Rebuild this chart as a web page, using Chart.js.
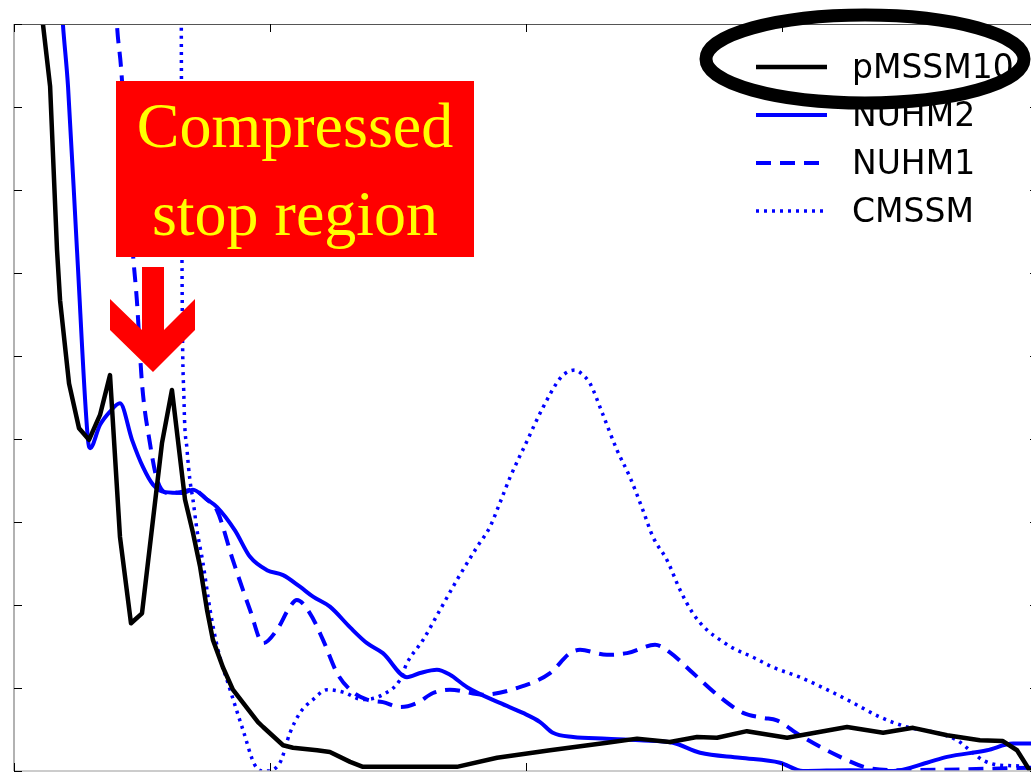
<!DOCTYPE html>
<html>
<head>
<meta charset="utf-8">
<script src="https://cdn.jsdelivr.net/npm/chart.js@4/dist/chart.umd.min.js"></script>
<style>
  html, body { margin: 0; padding: 0; background: #fff; overflow: hidden; }
  #wrap { width: 1050px; height: 773px; }
</style>
</head>
<body>
<div id="wrap"><canvas id="c" width="1050" height="773"></canvas></div>
<script>
// stop mass (GeV) and delta chi^2
const xTicks = [0, 1000, 2000, 3000, 4000];
const yTicks = [0, 1, 2, 3, 4, 5, 6, 7, 8, 9];

const pmssm10X = [94, 113, 141, 168, 180, 215, 254, 293, 336, 375, 414, 457, 500, 578, 617, 668, 699, 727, 754, 777, 816, 855, 910, 953, 973, 1051, 1090, 1184, 1234, 1313, 1363, 1469, 1730, 1887, 2094, 2316, 2434, 2562, 2668, 2746, 2863, 3020, 3254, 3395, 3512, 3645, 3773, 3863, 3918, 3969, 3995];
const pmssm10Y = [9.77, 9.0, 8.25, 6.28, 5.67, 4.67, 4.13, 3.99, 4.29, 4.77, 2.82, 1.78, 1.90, 3.95, 4.59, 3.27, 2.87, 2.46, 1.94, 1.58, 1.25, 0.98, 0.76, 0.59, 0.53, 0.31, 0.28, 0.25, 0.23, 0.11, 0.05, 0.05, 0.05, 0.16, 0.25, 0.34, 0.39, 0.35, 0.41, 0.40, 0.48, 0.40, 0.53, 0.46, 0.52, 0.43, 0.37, 0.36, 0.25, 0.0, -0.15];

const nuhm2X = [180, 191, 211, 246, 289, 297, 336, 375, 414, 461, 504, 543, 590, 660, 699, 754, 793, 863, 922, 988, 1051, 1117, 1168, 1234, 1313, 1379, 1441, 1535, 1586, 1652, 1703, 1770, 1898, 1988, 2055, 2105, 2184, 2316, 2445, 2574, 2680, 2836, 2992, 3082, 3266, 3434, 3566, 3645, 3801, 3902, 3990];
const nuhm2Y = [9.53, 9.0, 8.25, 6.28, 3.99, 3.89, 4.17, 4.33, 4.43, 3.99, 3.66, 3.45, 3.36, 3.35, 3.39, 3.27, 3.18, 2.90, 2.58, 2.42, 2.36, 2.22, 2.10, 1.98, 1.73, 1.54, 1.42, 1.13, 1.18, 1.22, 1.16, 1.01, 0.82, 0.70, 0.59, 0.46, 0.41, 0.39, 0.37, 0.34, 0.22, 0.16, 0.10, 0.0, 0.01, 0.0, 0.10, 0.17, 0.25, 0.33, 0.33];

const nuhm1X = [394, 402, 418, 465, 480, 500, 531, 559, 598, 648, 699, 754, 793, 855, 922, 973, 1027, 1078, 1105, 1156, 1207, 1262, 1313, 1379, 1441, 1508, 1574, 1637, 1703, 1832, 1965, 2094, 2172, 2211, 2316, 2395, 2504, 2562, 2652, 2758, 2848, 2926, 2980, 3070, 3227, 3332, 3461, 3990];
const nuhm1Y = [9.53, 9.0, 8.48, 6.22, 5.67, 4.67, 3.95, 3.51, 3.35, 3.36, 3.39, 3.27, 3.14, 2.54, 1.94, 1.54, 1.70, 1.98, 2.06, 1.90, 1.58, 1.18, 0.98, 0.86, 0.83, 0.77, 0.82, 0.94, 0.98, 0.92, 1.00, 1.18, 1.42, 1.46, 1.40, 1.42, 1.52, 1.43, 1.18, 0.89, 0.70, 0.64, 0.61, 0.43, 0.17, 0.04, 0.01, 0.04];

const cmssmX = [653, 656, 664, 676, 687, 699, 715, 738, 766, 797, 844, 895, 941, 980, 1039, 1078, 1117, 1168, 1223, 1285, 1363, 1441, 1508, 1535, 1598, 1664, 1730, 1809, 1859, 1898, 1938, 2000, 2063, 2133, 2164, 2191, 2223, 2250, 2301, 2355, 2406, 2457, 2496, 2551, 2602, 2652, 2707, 2758, 2809, 2887, 2965, 3070, 3176, 3254, 3383, 3488, 3605, 3684, 3734, 3785, 3852, 3990];
const cmssmY = [9.53, 6.28, 4.47, 3.87, 3.51, 3.27, 2.90, 2.51, 1.94, 1.46, 0.98, 0.49, 0.07, 0.0, 0.10, 0.46, 0.70, 0.86, 0.98, 0.95, 0.86, 0.92, 1.10, 1.30, 1.58, 1.94, 2.30, 2.70, 2.94, 3.23, 3.54, 3.95, 4.36, 4.73, 4.81, 4.83, 4.77, 4.67, 4.29, 3.87, 3.54, 3.14, 2.82, 2.54, 2.18, 1.90, 1.70, 1.58, 1.48, 1.37, 1.25, 1.13, 0.98, 0.86, 0.65, 0.53, 0.46, 0.37, 0.25, 0.13, 0.07, 0.06];

const seriesNames = ["pMSSM10", "NUHM2", "NUHM1", "CMSSM"];

const pts = (xs, ys) => xs.map((x, i) => ({x, y: ys[i]}));

const frame = {
  id: "frame",
  afterDatasetsDraw(chart) {
    const {ctx, chartArea: a, scales: {x, y}} = chart;
    ctx.save();
    // axes box
    ctx.lineWidth = 1.5;
    ctx.strokeStyle = "#999";
    ctx.beginPath(); ctx.moveTo(a.left, a.top); ctx.lineTo(a.left, a.bottom); ctx.stroke();
    ctx.strokeStyle = "#bbb";
    ctx.beginPath(); ctx.moveTo(a.left, a.bottom); ctx.lineTo(a.right, a.bottom); ctx.stroke();
    ctx.lineWidth = 1;
    ctx.strokeStyle = "#555";
    ctx.beginPath(); ctx.moveTo(a.left, a.top + 0.5); ctx.lineTo(a.right, a.top + 0.5); ctx.stroke();
    ctx.beginPath(); ctx.moveTo(a.right, a.top); ctx.lineTo(a.right, a.bottom); ctx.stroke();
    // inward ticks
    ctx.strokeStyle = "#000";
    ctx.lineWidth = 1;
    yTicks.forEach(v => {
      const py = Math.round(y.getPixelForValue(v)) + 0.5;
      ctx.beginPath(); ctx.moveTo(a.left, py); ctx.lineTo(a.left + 8, py); ctx.stroke();
      ctx.beginPath(); ctx.moveTo(a.right, py); ctx.lineTo(a.right - 8, py); ctx.stroke();
    });
    xTicks.forEach(v => {
      const px = Math.round(x.getPixelForValue(v)) + 0.5;
      ctx.beginPath(); ctx.moveTo(px, a.bottom); ctx.lineTo(px, a.bottom - 8); ctx.stroke();
      ctx.beginPath(); ctx.moveTo(px, a.top); ctx.lineTo(px, a.top + 8); ctx.stroke();
    });

    // red label box
    ctx.fillStyle = "#ff0000";
    ctx.fillRect(116, 81, 358, 176);
    ctx.fillStyle = "#ffff00";
    ctx.font = "64px 'Liberation Serif', 'Times New Roman', serif";
    ctx.textAlign = "center";
    ctx.textBaseline = "alphabetic";
    ctx.fillText("Compressed", 295, 147);
    ctx.fillText("stop region", 295, 235);

    // arrow
    ctx.fillStyle = "#ff0000";
    ctx.beginPath();
    [[142, 267], [164, 267], [164, 330], [195, 299], [195, 330], [153, 372], [110, 330], [110, 299], [142, 330]]
      .forEach(([px, py], i) => i ? ctx.lineTo(px, py) : ctx.moveTo(px, py));
    ctx.closePath();
    ctx.fill();

    // legend
    ctx.textAlign = "left";
    ctx.font = "33px 'DejaVu Sans', sans-serif";
    chart.data.datasets.forEach((ds, i) => {
      const ly = 67 + i * 48;
      ctx.strokeStyle = ds.borderColor;
      ctx.lineWidth = ds.borderWidth;
      ctx.setLineDash(ds.borderDash || []);
      ctx.beginPath(); ctx.moveTo(756, ly); ctx.lineTo(827, ly); ctx.stroke();
      ctx.setLineDash([]);
      ctx.fillStyle = "#000";
      ctx.fillText(ds.label, 852, ly + 11);
    });

    // ellipse round the first entry
    ctx.strokeStyle = "#000";
    ctx.lineWidth = 13;
    ctx.beginPath();
    ctx.ellipse(865, 59, 159, 44, 0, 0, Math.PI * 2);
    ctx.stroke();
    ctx.restore();
  }
};

new Chart(document.getElementById("c"), {
  type: "line",
  data: {
    datasets: [
      {label: seriesNames[0], data: pts(pmssm10X, pmssm10Y), borderColor: "#000000", borderWidth: 4.5},
      {label: seriesNames[1], data: pts(nuhm2X, nuhm2Y), borderColor: "#0000ff", borderWidth: 4, cubicInterpolationMode: "monotone"},
      {label: seriesNames[2], data: pts(nuhm1X, nuhm1Y), borderColor: "#0000ff", borderWidth: 4, borderDash: [15, 9], cubicInterpolationMode: "monotone"},
      {label: seriesNames[3], data: pts(cmssmX, cmssmY), borderColor: "#0000ff", borderWidth: 3.5, borderDash: [3, 5], cubicInterpolationMode: "monotone"}
    ]
  },
  options: {
    responsive: false,
    animation: false,
    devicePixelRatio: 1,
    layout: {padding: {left: 14, top: 24, right: 12, bottom: 2}},
    elements: {
      point: {radius: 0},
      line: {tension: 0, borderJoinStyle: "round", fill: false}
    },
    scales: {
      x: {type: "linear", min: 0, max: 4000, display: false},
      y: {min: 0, max: 9, display: false}
    },
    plugins: {legend: {display: false}, tooltip: {enabled: false}}
  },
  plugins: [frame]
});
</script>
</body>
</html>
